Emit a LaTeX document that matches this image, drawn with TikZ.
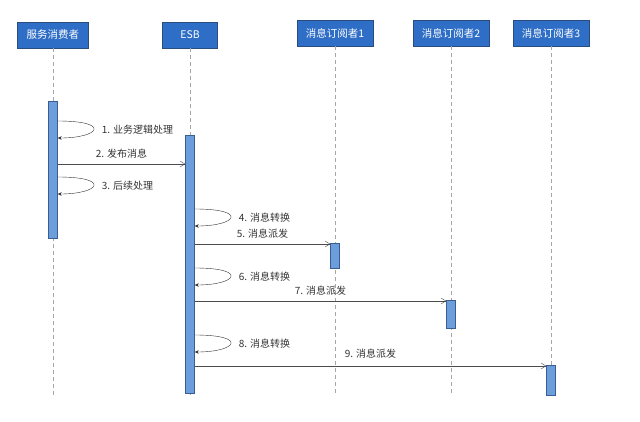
\documentclass[tikz,border=0pt]{standalone}
\usepackage{fontspec}
\newfontfamily\cjk{Noto Sans CJK SC}
\usetikzlibrary{arrows.meta,positioning,calc}

\definecolor{headblue}{HTML}{2F6EC6}
\definecolor{headline}{HTML}{2A4D80}
\definecolor{barblue}{HTML}{6C9EDC}
\definecolor{barline}{HTML}{3A5E94}

\tikzset{
	head/.style={draw=headline, fill=headblue, text=white, minimum height=26pt, inner sep=1pt, font=\cjk\fontsize{10.5}{12}\selectfont},
	actbar/.style={draw=barline, fill=barblue, minimum width=9pt, inner sep=0pt},
	life/.style={gray!70, dashed, dash pattern=on 4pt off 3pt},
	msg/.style={draw=black!70, -{Straight Barb[length=5pt,width=6pt]}},
	selfmsg/.style={black!80, -{Stealth[length=4pt,width=3.5pt]}},
	lbl/.style={font=\cjk\fontsize{10}{11}\selectfont, text=black!80, inner sep=1pt}
}

\begin{document}
\begin{tikzpicture}[x=1pt, y=-1pt]
	\useasboundingbox (0,0) rectangle (640,422);
	% participants
	\node[head, minimum width=71pt] (cons) at (53,35) {服务消费者};
	\node[head, minimum width=55pt] (esb) at (190,35) {ESB};
	\node[head, minimum width=76pt] (subA) at (335,33) {消息订阅者1};
	\node[head, minimum width=76pt] (subB) at (451,33) {消息订阅者2};
	\node[head, minimum width=76pt] (subC) at (551,33) {消息订阅者3};
	% lifelines
	\coordinate (consend) at (53,395);
	\coordinate (esbend) at (190,395);
	\coordinate (subAend) at (335,395);
	\coordinate (subBend) at (451,395);
	\coordinate (subCend) at (551,395);
	\draw[life] (cons) -- (consend);
	\draw[life] (esb) -- (esbend);
	\draw[life] (subA) -- (subAend);
	\draw[life] (subB) -- (subBend);
	\draw[life] (subC) -- (subCend);
	% activation bars
	\node[actbar, minimum height=137pt] (consbar) at (53,170) {};
	\node[actbar, minimum height=258pt] (esbbar) at (190,264) {};
	\node[actbar, minimum height=25pt] (subAbar) at (335,256) {};
	\node[actbar, minimum height=28pt] (subBbar) at (451,314) {};
	\node[actbar, minimum height=30pt] (subCbar) at (551,380) {};
	% self messages
	\foreach \act/\ya/\yb/\txt in {consbar/121/138/{1. 业务逻辑处理}, consbar/177/194/{3. 后续处理}, esbbar/209/226/{4. 消息转换}, esbbar/268/285/{6. 消息转换}, esbbar/335/352/{8. 消息转换}}{
		\coordinate (s1) at (\act.east |- 0,\ya);
		\coordinate (s2) at (\act.east |- 0,\yb);
		\draw[selfmsg] (s1) .. controls ([xshift=54pt]s1) and ([xshift=42pt]s2) .. (s2);
		\node[lbl, anchor=west] at ([xshift=43pt]$(s1)!0.5!(s2)$) {\txt};
	}
	% calls
	\coordinate (m2) at (consbar.east |- 0,164);
	\coordinate (m5) at (esbbar.east |- 0,244);
	\coordinate (m7) at (esbbar.east |- 0,301);
	\coordinate (m9) at (esbbar.east |- 0,366);
	\draw[msg] (m2) -- (esbbar.west |- m2) node[lbl, midway, above=4pt] {2. 发布消息};
	\draw[msg] (m5) -- (subAbar.west |- m5) node[lbl, midway, above=4pt] {5. 消息派发};
	\draw[msg] (m7) -- (subBbar.west |- m7) node[lbl, midway, above=4pt] {7. 消息派发};
	\draw[msg] (m9) -- (subCbar.west |- m9) node[lbl, midway, above=6pt] {9. 消息派发};
\end{tikzpicture}
\end{document}
